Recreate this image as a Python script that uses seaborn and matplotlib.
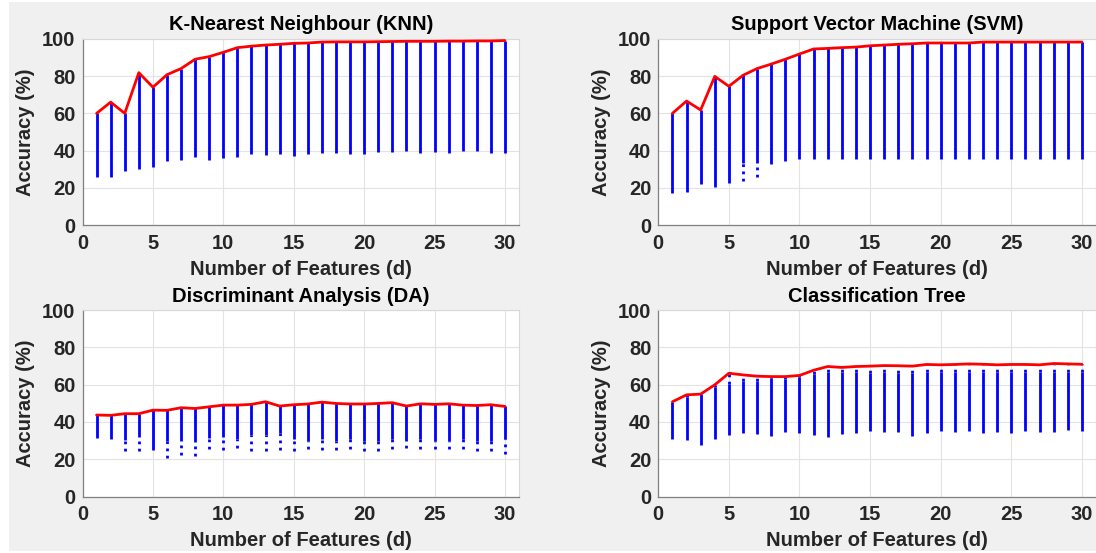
import numpy as np
import matplotlib
matplotlib.use("Agg")
import matplotlib.pyplot as plt
from matplotlib.patches import Rectangle
import seaborn as sns

# Number of selected features
features = list(range(1, 31))

# K-Nearest Neighbour: best accuracy and lowest accuracy per feature count
knn_best = [60.0, 66.0, 60.0, 81.8, 74.0, 80.7, 84.0, 89.0, 90.4, 92.7,
            95.2, 96.0, 96.6, 97.0, 97.5, 97.7, 98.2, 98.3, 98.3, 98.3,
            98.4, 98.5, 98.6, 98.6, 98.6, 98.7, 98.7, 98.8, 98.8, 99.0]
knn_worst = [26.0, 26.0, 29.3, 30.2, 31.0, 34.6, 35.0, 36.8, 35.0, 36.0,
             36.6, 38.0, 37.5, 38.0, 37.1, 38.2, 38.6, 39.0, 38.2, 38.2,
             39.5, 39.5, 40.0, 39.0, 39.5, 38.6, 40.0, 40.0, 39.0, 39.0]

# Support Vector Machine
svm_best = [60.0, 66.6, 61.8, 79.8, 74.5, 80.4, 84.0, 86.4, 89.0, 91.8,
            94.5, 94.8, 95.2, 95.5, 96.2, 96.6, 97.0, 97.3, 97.7, 97.7,
            97.7, 97.7, 98.2, 98.2, 98.2, 98.2, 98.2, 98.2, 98.2, 98.2]
svm_dense_low = [17.1, 18.0, 22.0, 20.7, 22.5, 33.6, 33.6, 32.9, 34.6, 35.4,
                 35.4, 35.4, 35.4, 35.4, 35.4, 35.4, 35.4, 35.4, 35.4, 35.4,
                 35.4, 35.4, 35.4, 35.4, 35.4, 35.4, 35.4, 35.4, 35.4, 35.4]
svm_worst = [17.1, 18.0, 22.0, 20.7, 22.5, 24.0, 26.0, 32.9, 34.6, 35.4,
             35.4, 35.4, 35.4, 35.4, 35.4, 35.4, 35.4, 35.4, 35.4, 35.4,
             35.4, 35.4, 35.4, 35.4, 35.4, 35.4, 35.4, 35.4, 35.4, 35.4]

# Discriminant Analysis
da_best = [43.7, 43.5, 44.4, 44.4, 46.3, 46.2, 47.6, 47.2, 48.1, 49.0,
           49.0, 49.4, 50.8, 48.5, 49.2, 49.6, 50.6, 49.9, 49.6, 49.6,
           49.9, 50.3, 48.5, 49.7, 49.4, 49.7, 49.0, 48.8, 49.2, 48.3]
da_dense_low = [31.6, 30.7, 30.4, 32.0, 25.0, 29.5, 29.8, 29.1, 31.3, 32.0,
                31.0, 33.0, 33.0, 34.0, 31.0, 30.0, 31.0, 30.0, 31.0, 30.0,
                30.0, 31.0, 30.0, 31.0, 30.0, 30.0, 31.0, 30.0, 30.0, 31.0]
da_worst = [31.6, 30.7, 24.6, 24.6, 25.0, 20.5, 22.3, 21.9, 25.5, 25.1,
            25.8, 24.2, 24.6, 25.1, 24.6, 25.3, 25.0, 24.8, 25.3, 24.2,
            24.2, 25.5, 26.2, 25.5, 25.3, 25.5, 25.5, 24.4, 24.2, 23.0]

# Classification Tree
tree_best = [50.8, 54.5, 54.9, 59.9, 66.1, 65.2, 64.5, 64.3, 64.3, 64.9,
             67.7, 69.7, 69.2, 69.7, 69.9, 70.2, 70.1, 69.9, 70.8, 70.6,
             70.8, 71.1, 70.9, 70.6, 70.8, 70.8, 70.6, 71.3, 71.1, 70.9]
tree_dense_high = [50.8, 53.4, 54.7, 58.8, 60.5, 61.8, 62.1, 63.6, 63.2, 64.1,
                   65.9, 66.5, 66.5, 66.5, 66.0, 66.5, 66.0, 66.0, 67.0, 67.0,
                   67.0, 67.0, 66.5, 66.5, 66.6, 66.6, 66.5, 67.0, 67.0, 66.8]
tree_worst = [30.8, 30.3, 27.6, 30.8, 33.2, 34.2, 33.5, 32.4, 34.8, 33.9,
              32.8, 32.1, 33.3, 34.2, 34.9, 34.6, 34.6, 32.4, 34.2, 34.9,
              34.6, 35.3, 34.0, 34.6, 34.2, 34.9, 34.6, 34.4, 35.5, 35.3]

titles = ["K-Nearest Neighbour (KNN)", "Support Vector Machine (SVM)",
          "Discriminant Analysis (DA)", "Classification Tree"]
x_ticks = [0, 5, 10, 15, 20, 25, 30]
y_ticks = [0, 20, 40, 60, 80, 100]

sns.set_style("whitegrid")
plt.rcParams["font.family"] = ["Liberation Sans", "DejaVu Sans"]
plt.rcParams["font.weight"] = "bold"

W, H = 1096, 553
fig = plt.figure(figsize=(W / 100, H / 100), dpi=100, facecolor="white")
fig.patches.append(Rectangle((9 / W, 2 / H), 1 - 9 / W, (551 - 2) / H,
                             transform=fig.transFigure, facecolor="#f0f0f0",
                             edgecolor="none", zorder=-10))


def axes_at(left, top, right, bottom):
    return fig.add_axes([left / W, 1 - bottom / H, (right - left) / W, (bottom - top) / H])


boxes = [(82.5, 38.7, 519, 225.3), (658.3, 38.7, 1096, 225.3),
         (82.5, 310, 519, 496.5), (658.3, 310, 1096, 496.5)]

panels = [
    dict(best=knn_best, top=knn_best, dlow=knn_worst, low=knn_worst),
    dict(best=svm_best, top=svm_best, dlow=svm_dense_low, low=svm_worst),
    dict(best=da_best, top=da_best, dlow=da_dense_low, low=da_worst),
    dict(best=tree_best, top=tree_dense_high, dlow=tree_worst, low=tree_worst),
]

blue = "#0000ff"
fs = 14.5
for box, title, p in zip(boxes, titles, panels):
    ax = axes_at(*box)
    ax.set_facecolor("white")
    # dense band of evaluated subsets
    ax.vlines(features, p["dlow"], p["top"], colors=blue, linewidth=2.0, zorder=2)
    # sparse tails above / below the dense band
    ax.vlines(features, p["low"], p["dlow"], colors=blue, linewidth=2.0,
              linestyles=(0, (1, 1.6)), zorder=2)
    ax.vlines(features, p["top"], p["best"], colors=blue, linewidth=2.0,
              linestyles=(0, (1, 1.6)), zorder=2)
    sns.lineplot(x=features, y=p["best"], ax=ax, color="red", linewidth=2.0,
                 zorder=3, legend=False)

    ax.set_xlim(0, 31)
    ax.set_ylim(0, 100)
    ax.set_xticks(x_ticks)
    ax.set_yticks(y_ticks)
    ax.grid(True, color="#e3e3e3", linewidth=0.8)
    ax.tick_params(axis="both", direction="in", length=3, width=0.8,
                   color="#808080", labelsize=fs, labelcolor="#262626")
    ax.tick_params(axis="x", pad=6)
    ax.tick_params(axis="y", pad=5)
    for lab in ax.get_xticklabels() + ax.get_yticklabels():
        lab.set_fontweight("bold")
    for side in ("left", "bottom"):
        ax.spines[side].set_color("#808080")
        ax.spines[side].set_linewidth(0.9)
    for side in ("top", "right"):
        ax.spines[side].set_color("#d8d8d8")
        ax.spines[side].set_linewidth(0.8)
    ax.set_title(title, fontsize=fs, fontweight="bold", color="black", pad=6)
    ax.set_xlabel("Number of Features (d)", fontsize=fs, fontweight="bold",
                  color="#262626", labelpad=5)
    ax.set_ylabel("Accuracy (%)", fontsize=fs, fontweight="bold",
                  color="#262626", labelpad=5)

fig.savefig("out.png", dpi=100, facecolor=fig.get_facecolor())
